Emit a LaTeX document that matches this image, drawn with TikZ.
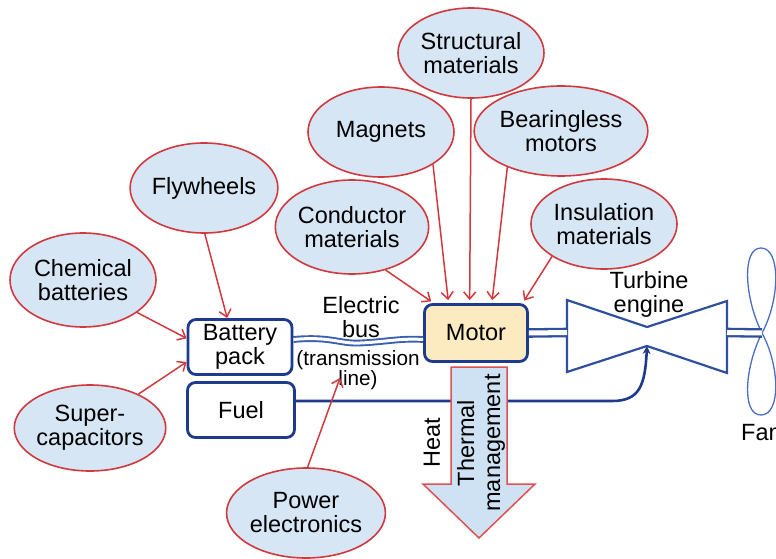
\documentclass[tikz,border=0pt]{standalone}
\usepackage{fontspec}
\setmainfont{Liberation Sans}
\usetikzlibrary{shapes.geometric,arrows.meta,calc}
\definecolor{ellfill}{HTML}{D6E6F4}
\definecolor{ellred}{HTML}{D0393E}
\definecolor{navy}{HTML}{1E3A8C}
\definecolor{tblue}{HTML}{2F4F9F}
\definecolor{busblue}{HTML}{3A5FB0}
\definecolor{fanblue}{HTML}{4A6FC0}
\definecolor{motfill}{HTML}{FCEBC0}
\definecolor{heatfill}{HTML}{CFE2F3}
\definecolor{heatred}{HTML}{E05050}
\begin{document}
\begin{tikzpicture}[x=1pt,y=-1pt,
  every node/.style={font=\fontsize{23.5}{24}\selectfont, align=center, inner sep=0pt, text=black},
  ell/.style={ellipse, draw=ellred, fill=ellfill, line width=1.6pt, minimum width=146pt, minimum height=90pt},
  blk/.style={draw=navy, rounded corners=8pt, line width=2.8pt, fill=white, minimum width=104pt, minimum height=55pt},
  feed/.style={draw=ellred, line width=1.5pt, -{Straight Barb[length=7pt,width=12pt]}},
  shaft/.style={draw=tblue, line width=2.3pt, double=white, double distance=5pt},
]
\useasboundingbox (0,0) rectangle (776,559);
\clip (0,0) rectangle (776,559);

% ellipses
\node[ell] (struct) at (471,53) {Structural\\materials};
\node[ell] (magnets) at (381,132) {Magnets};
\node[ell] (bearing) at (561,131) {Bearingless\\motors};
\node[ell, minimum width=140pt, minimum height=94pt] (cond) at (352,227) {Conductor\\materials};
\node[ell] (insul) at (604,224) {Insulation\\materials};
\node[ell] (fly) at (204,188) {Flywheels};
\node[ell, minimum height=94pt] (chem) at (83,280) {Chemical\\batteries};
\node[ell, minimum width=150pt, minimum height=86pt] (super) at (90,428) {Super-\\capacitors};
\node[ell] (power) at (306,513) {Power\\electronics};

% blocks
\node[blk] (bat) at (240,347) {Battery\\pack};
\node[blk, minimum width=107pt] (fuel) at (241,410) {Fuel};
\node[blk, fill=motfill, minimum width=103pt, minimum height=57pt] (motor) at (476,333) {Motor};

% labels
\node (ebus) at (361,317) {Electric\\bus};
\node[font=\fontsize{20.7}{20}\selectfont] (trans) at (358,370) {(transmission\\line)};
\node (tlabel) at (649,294) {Turbine\\engine};
\node[anchor=west] (fanlbl) at (741,433) {Fan};
\coordinate (petip) at (340,378);

% turbine
\coordinate (tleft) at (567,332.5);
\coordinate (tright) at (727,332.5);
\coordinate (tpinch) at (647,346);
\draw[tblue, line width=2.2pt, line join=miter] (567,300) -- (647,327) -- (727,301) -- (727,373) -- (647,346) -- (567,372) -- cycle;

% fan
\coordinate (fanc) at (762,333);
\draw[fanblue, line width=1.3pt] (fanc) .. controls (745,300) and (741,248) .. (761,248) .. controls (781,248) and (780,300) .. (fanc);
\draw[fanblue, line width=1.3pt] (fanc) .. controls (745,366) and (741,415) .. (761,415) .. controls (781,415) and (780,366) .. (fanc);

% shafts
\draw[shaft] (motor.east) -- (tleft);
\draw[shaft] (tright) -- (fanc);

% electric bus
\draw[busblue, line width=1.9pt, double=white, double distance=3pt]
  ($(bat.east)+(0,-7.5)$) .. controls (330,336) and (340,344) .. (360,343)
  .. controls (385,342) and (400,338) .. ($(motor.west)+(0,6.5)$);

% fuel line
\draw[navy, line width=2.6pt, -{Stealth[length=8pt,width=8pt]}]
  ($(fuel.east)+(0,-9)$) -- (612,401) .. controls (640,401) and (645,385) .. (tpinch);

% thermal management arrow
\draw[heatred, fill=heatfill, line width=1.5pt, line join=miter]
  (451,367) -- (507,367) -- (507,484) -- (535,484) -- (479,538) -- (423,484) -- (451,484) -- cycle;
\node[rotate=90, font=\fontsize{23.5}{26}\selectfont] (thermal) at (481,443) {Thermal\\management};
\node[rotate=90] (heat) at (432,443) {Heat};

% feed arrows
\draw[feed] (chem.-31) -- ($(bat.north west)!0.35!(bat.south west)$);
\draw[feed] (super.35) -- ($(bat.north west)!0.76!(bat.south west)$);
\draw[feed] (fly.-89) -- ($(bat.north west)!0.38!(bat.north east)$);
\draw[feed, shorten >=3pt] (cond.-52) -- ($(motor.north west)!0.10!(motor.north east)$);
\draw[feed, shorten >=3pt] (magnets.-32) -- ($(motor.north west)!0.24!(motor.north east)$);
\draw[feed, shorten >=3pt] (struct.-90) -- ($(motor.north west)!0.44!(motor.north east)$);
\draw[feed, shorten >=3pt] (bearing.-146) -- ($(motor.north west)!0.65!(motor.north east)$);
\draw[feed, shorten >=3pt] (insul.-148) -- ($(motor.north west)!0.94!(motor.north east)$);
\draw[feed] (power.88) -- (petip);
\end{tikzpicture}
\end{document}
